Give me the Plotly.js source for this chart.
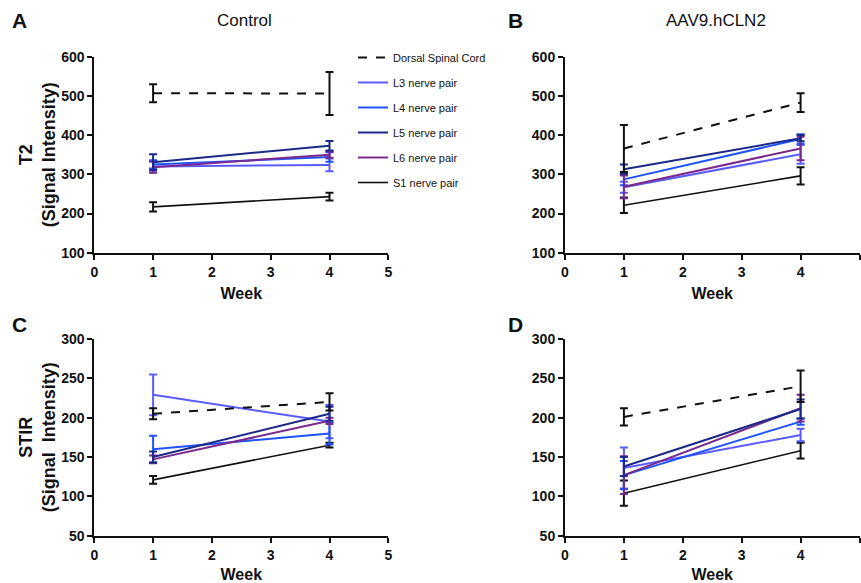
<!DOCTYPE html>
<html>
<head>
<meta charset="utf-8">
<script src="https://cdn.plot.ly/plotly-3.0.1.min.js"></script>
<style>
html, body { margin: 0; padding: 0; background: #ffffff; }
#chart { width: 861px; height: 583px; }
</style>
</head>
<body>
<div id="chart"></div>
<script>
// ---------- data ----------
const weeks = [1, 4];
const seriesNames = ['Dorsal Spinal Cord', 'L3 nerve pair', 'L4 nerve pair', 'L5 nerve pair', 'L6 nerve pair', 'S1 nerve pair'];
const panelTitles = ['Control', 'AAV9.hCLN2'];
const panelLetters = ['A', 'B', 'C', 'D'];
const xTicks = [0, 1, 2, 3, 4, 5];
const t2Ticks = [100, 200, 300, 400, 500, 600];
const stirTicks = [50, 100, 150, 200, 250, 300];
const yTitles = ['T2<br>(Signal Intensity)', 'STIR<br>(Signal  Intensity)'];
const xTitle = 'Week';

// Panel A: T2, Control (mean at week 1, week 4; error = SEM)
const t2CtrlMean = [[507, 506], [320, 324], [325, 344], [331, 373], [318, 350], [217, 243]];
const t2CtrlErr  = [[23, 55], [15, 16], [10, 12], [20, 12], [14, 8], [12, 10]];
// Panel B: T2, AAV9.hCLN2
const t2AavMean  = [[366, 483], [267, 351], [287, 390], [313, 392], [268, 366], [221, 296]];
const t2AavErr   = [[60, 24], [14, 24], [15, 12], [12, 8], [29, 30], [20, 22]];
// Panel C: STIR, Control
const stirCtrlMean = [[205, 220], [229, 195], [160, 180], [150, 205], [147, 196], [121, 165]];
const stirCtrlErr  = [[7, 11], [26, 21], [17, 14], [7, 9], [5, 4], [5, 3]];
// Panel D: STIR, AAV9.hCLN2
const stirAavMean  = [[201, 240], [136, 178], [127, 195], [138, 211], [127, 212], [104, 158]];
const stirAavErr   = [[11, 20], [26, 8], [18, 4], [12, 12], [24, 17], [16, 10]];

// ---------- styles ----------
const FONT = 'Liberation Sans, Arial, Helvetica, sans-serif';
const INK = '#111111';
const seriesColors = ['#111111', '#5a5cff', '#1f52ff', '#1b2987', '#7a2a8c', '#111111'];
const seriesDash = ['dash', 'solid', 'solid', 'solid', 'solid', 'solid'];
const seriesWidth = [2, 2, 2, 2, 2, 1.6];
const drawOrder = [5, 1, 2, 4, 3, 0];

const panels = [
  { mean: t2CtrlMean,   err: t2CtrlErr,   xa: 'x',  ya: 'y',  legend: true },
  { mean: t2AavMean,    err: t2AavErr,    xa: 'x2', ya: 'y2', legend: false },
  { mean: stirCtrlMean, err: stirCtrlErr, xa: 'x3', ya: 'y3', legend: false },
  { mean: stirAavMean,  err: stirAavErr,  xa: 'x4', ya: 'y4', legend: false }
];

const traces = [];
panels.forEach(p => {
  drawOrder.forEach(i => {
    traces.push({
      type: 'scatter',
      mode: 'lines',
      x: weeks,
      y: p.mean[i],
      name: seriesNames[i],
      legendgroup: 'g' + i,
      legendrank: i + 1,
      showlegend: p.legend,
      xaxis: p.xa,
      yaxis: p.ya,
      line: { color: seriesColors[i], width: seriesWidth[i], dash: seriesDash[i] },
      error_y: { type: 'data', array: p.err[i], visible: true, color: seriesColors[i], thickness: 2, width: 4 },
      hovertemplate: seriesNames[i] + '<br>Week %{x}: %{y}<extra></extra>'
    });
  });
});

function xAxis(domain, anchor) {
  return {
    domain: domain, anchor: anchor, range: [0, 5], tickvals: xTicks,
    ticks: 'outside', ticklen: 5, tickwidth: 2, tickcolor: INK,
    showline: true, linewidth: 2, linecolor: INK,
    showgrid: false, zeroline: false, fixedrange: true,
    tickfont: { family: FONT, size: 14, weight: 'bold', color: INK },
    title: { text: xTitle, standoff: 9, font: { family: FONT, size: 16, weight: 'bold', color: INK } }
  };
}
function yAxis(domain, anchor, range, ticks, title) {
  const ax = {
    domain: domain, anchor: anchor, range: range, tickvals: ticks,
    ticks: 'outside', ticklen: 5, tickwidth: 2, tickcolor: INK,
    showline: true, linewidth: 2, linecolor: INK,
    showgrid: false, zeroline: false, fixedrange: true,
    tickfont: { family: FONT, size: 14, weight: 'bold', color: INK }
  };
  if (title) ax.title = { text: title, font: { family: FONT, size: 18, weight: 'bold', color: INK } };
  return ax;
}

const W = 861, H = 583;
const dxL = [94.3 / W, 388.3 / W];
const dxR = [565 / W, 859.5 / W];
const dyT = [1 - 252.7 / H, 1 - 56.7 / H];
const dyB = [1 - 535.7 / H, 1 - 339 / H];

const annotations = [];
[[244, 21], [716, 21]].forEach((pos, k) => {
  annotations.push({ text: panelTitles[k], xref: 'paper', yref: 'paper', x: pos[0] / W, y: 1 - pos[1] / H,
    xanchor: 'center', yanchor: 'middle', showarrow: false, font: { family: FONT, size: 17, color: INK } });
});
[[19.5, 20], [515.5, 20], [19.5, 325], [515.5, 325]].forEach((pos, k) => {
  annotations.push({ text: panelLetters[k], xref: 'paper', yref: 'paper', x: pos[0] / W, y: 1 - pos[1] / H,
    xanchor: 'center', yanchor: 'middle', showarrow: false, font: { family: FONT, size: 21, weight: 'bold', color: INK } });
});

const layout = {
  width: W, height: H, autosize: false,
  margin: { l: 0, r: 0, t: 0, b: 0 },
  paper_bgcolor: '#ffffff', plot_bgcolor: '#ffffff',
  font: { family: FONT, color: INK },
  showlegend: true,
  legend: {
    x: 353 / W, y: 1 - 43 / H, xanchor: 'left', yanchor: 'top',
    bgcolor: 'rgba(0,0,0,0)', borderwidth: 0,
    font: { family: FONT, size: 11, color: INK },
    traceorder: 'grouped', tracegroupgap: 6
  },
  xaxis: xAxis(dxL, 'y'),
  yaxis: yAxis(dyT, 'x', [100, 600], t2Ticks, yTitles[0]),
  xaxis2: xAxis(dxR, 'y2'),
  yaxis2: yAxis(dyT, 'x2', [100, 600], t2Ticks, null),
  xaxis3: xAxis(dxL, 'y3'),
  yaxis3: yAxis(dyB, 'x3', [50, 300], stirTicks, yTitles[1]),
  xaxis4: xAxis(dxR, 'y4'),
  yaxis4: yAxis(dyB, 'x4', [50, 300], stirTicks, null),
  annotations: annotations
};

Plotly.newPlot('chart', traces, layout, { displayModeBar: false, responsive: false });
</script>
</body>
</html>
